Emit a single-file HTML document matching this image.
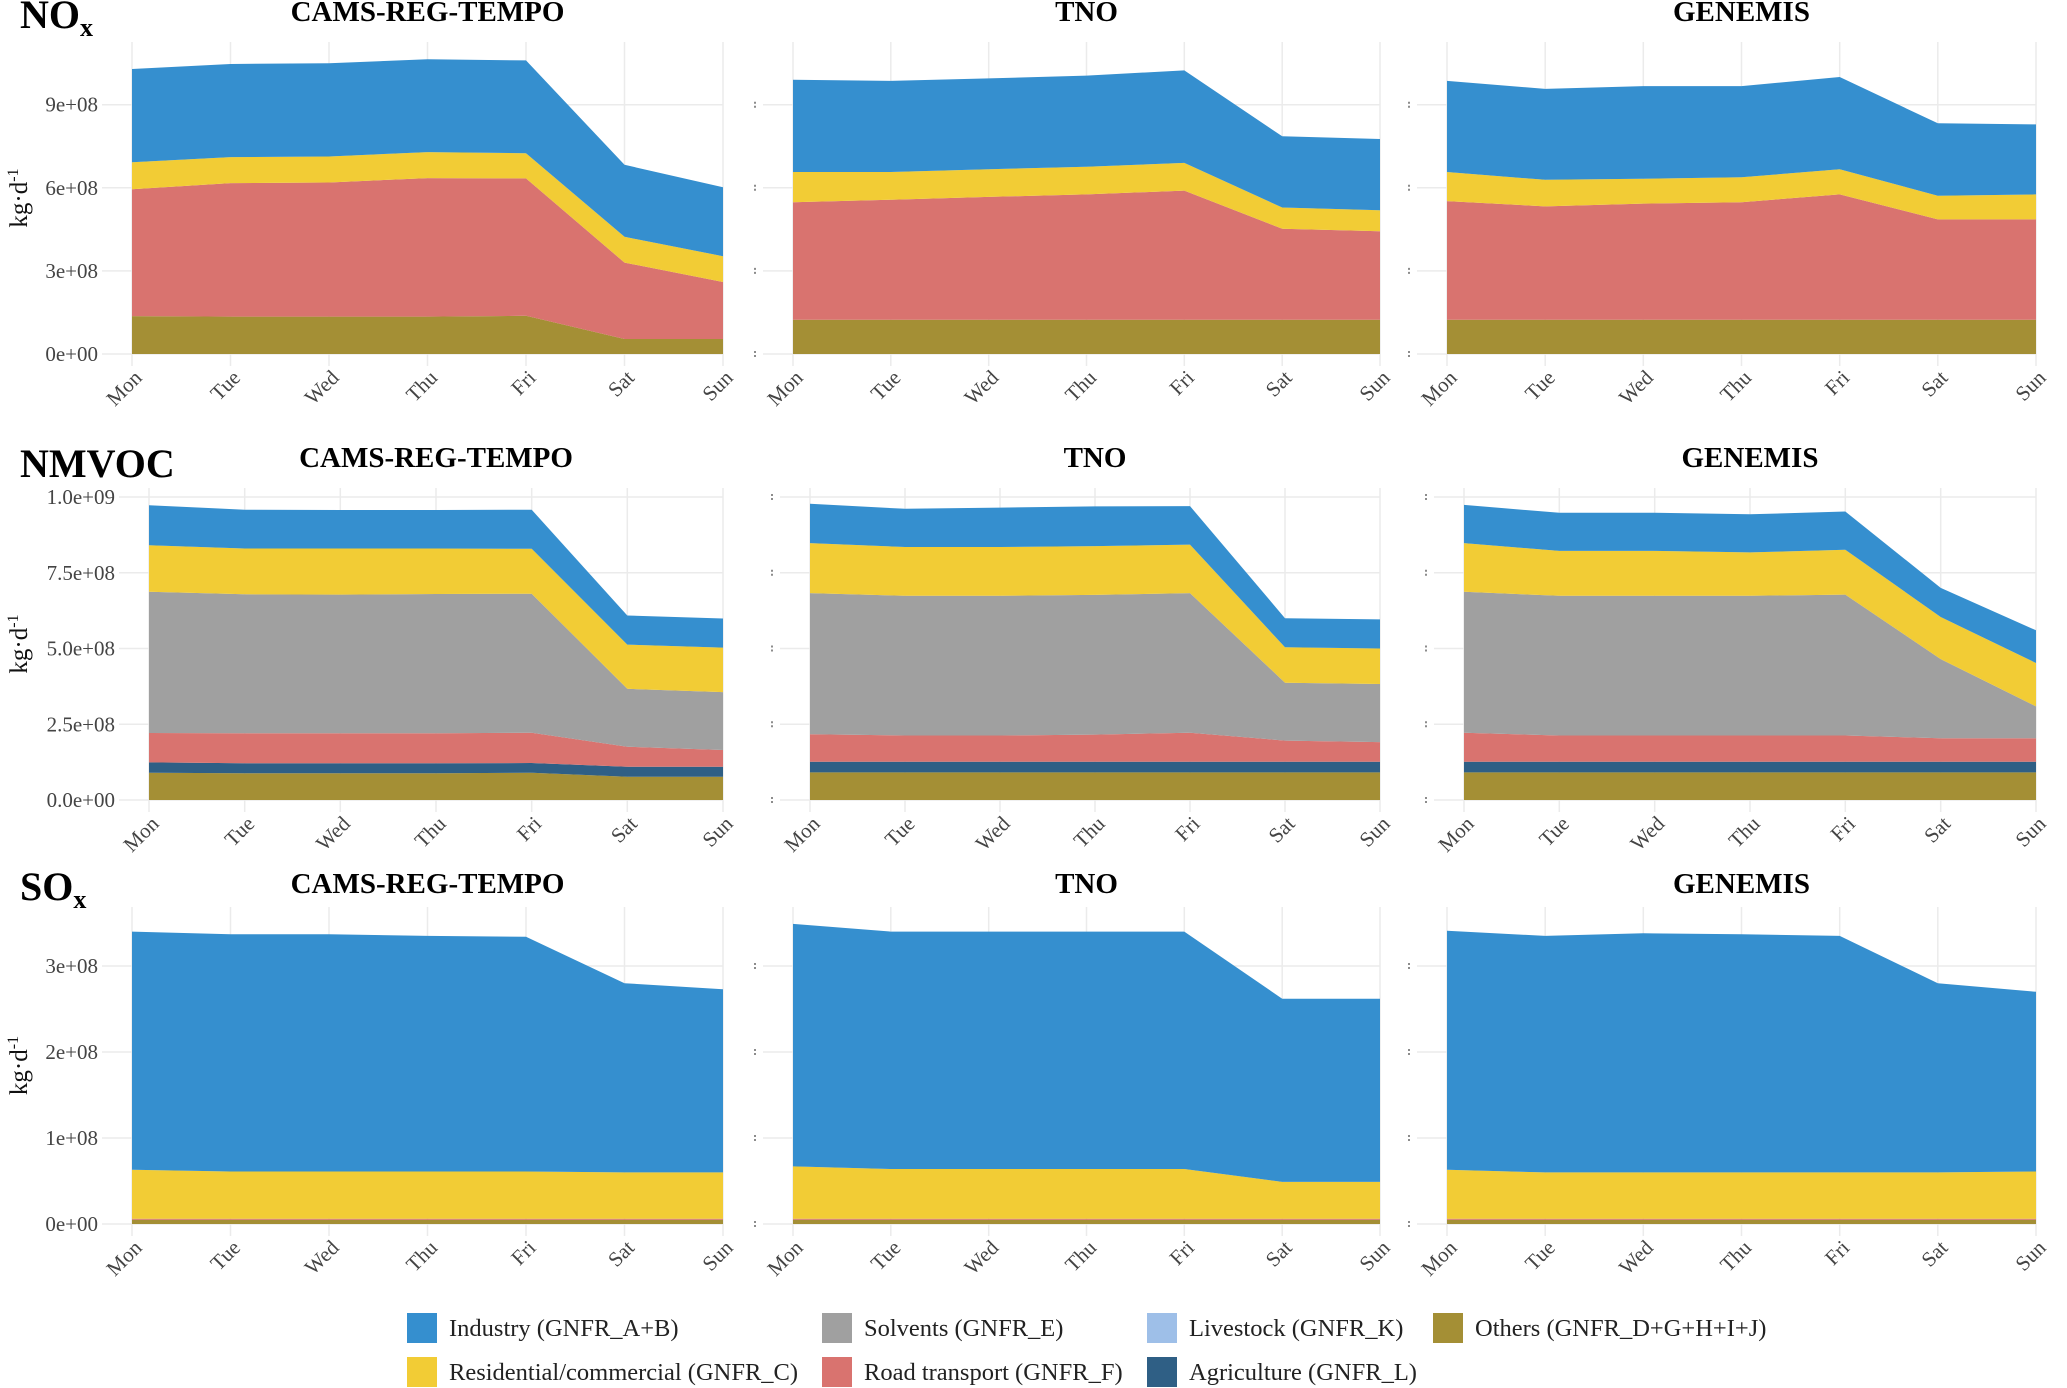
<!DOCTYPE html>
<html><head><meta charset="utf-8"><style>
body{margin:0;background:#fff;}
svg{display:block;font-family:"Liberation Serif",serif;}
</style></head><body>
<svg id="chart" width="2067" height="1388" viewBox="0 0 2067 1388" xmlns="http://www.w3.org/2000/svg"></svg>
<script>
const days = ["Mon","Tue","Wed","Thu","Fri","Sat","Sun"];
const seriesNames = ["Others","Agriculture","Livestock","Road transport","Solvents","Residential/commercial","Industry"];
const seriesColors = ["#a48f35","#2f5f85","#9ebfe8","#d9736f","#a0a0a0","#f2cc35","#358fcf"];
const models = ["CAMS-REG-TEMPO","TNO","GENEMIS"];
const zero7 = [0,0,0,0,0,0,0];
// values in units of 1e8 kg/d, per series (stack bottom->top)
// NOx
const noxCams = [[1.37,1.35,1.35,1.35,1.38,0.54,0.54],zero7,zero7,[4.58,4.82,4.84,5.0,4.96,2.76,2.06],zero7,[0.97,0.94,0.94,0.94,0.91,0.93,0.93],[3.37,3.36,3.37,3.35,3.35,2.6,2.49]];
const noxTno = [[1.24,1.24,1.24,1.24,1.24,1.24,1.24],zero7,zero7,[4.24,4.33,4.43,4.52,4.66,3.28,3.19],zero7,[1.09,1.0,1.0,1.0,1.0,0.77,0.76],[3.33,3.29,3.28,3.29,3.34,2.57,2.57]];
const noxGen = [[1.24,1.24,1.24,1.24,1.24,1.24,1.24],zero7,zero7,[4.28,4.09,4.19,4.24,4.52,3.62,3.62],zero7,[1.05,0.96,0.9,0.9,0.91,0.85,0.9],[3.29,3.28,3.34,3.29,3.33,2.62,2.53]];
// NMVOC
const vocCams = [[0.9,0.88,0.88,0.88,0.9,0.77,0.77],[0.34,0.33,0.33,0.33,0.32,0.33,0.33],zero7,[0.97,0.99,0.99,0.99,1.0,0.66,0.55],[4.66,4.59,4.58,4.6,4.59,1.91,1.91],[1.54,1.51,1.52,1.5,1.48,1.46,1.47],[1.32,1.28,1.27,1.27,1.29,0.96,0.96]];
const vocTno = [[0.91,0.91,0.91,0.91,0.91,0.91,0.91],[0.35,0.35,0.35,0.35,0.35,0.35,0.35],zero7,[0.91,0.87,0.87,0.9,0.96,0.7,0.65],[4.66,4.61,4.61,4.61,4.61,1.91,1.92],[1.65,1.61,1.61,1.61,1.6,1.17,1.17],[1.3,1.26,1.3,1.31,1.27,0.96,0.96]];
const vocGen = [[0.91,0.91,0.91,0.91,0.91,0.91,0.91],[0.35,0.35,0.35,0.35,0.35,0.35,0.35],zero7,[0.96,0.87,0.87,0.87,0.87,0.78,0.78],[4.65,4.61,4.61,4.61,4.65,2.61,1.05],[1.61,1.48,1.48,1.43,1.48,1.39,1.43],[1.26,1.26,1.26,1.26,1.26,0.96,1.08]];
// SOx
const soxCams = [[0.05,0.05,0.05,0.05,0.05,0.05,0.05],zero7,zero7,[0.01,0.01,0.01,0.01,0.01,0.01,0.01],zero7,[0.57,0.55,0.55,0.55,0.55,0.54,0.54],[2.77,2.76,2.76,2.74,2.73,2.2,2.13]];
const soxTno = [[0.05,0.05,0.05,0.05,0.05,0.05,0.05],zero7,zero7,[0.01,0.01,0.01,0.01,0.01,0.01,0.01],zero7,[0.61,0.58,0.58,0.58,0.58,0.43,0.43],[2.82,2.76,2.76,2.76,2.76,2.13,2.13]];
const soxGen = [[0.05,0.05,0.05,0.05,0.05,0.05,0.05],zero7,zero7,[0.01,0.01,0.01,0.01,0.01,0.01,0.01],zero7,[0.57,0.54,0.54,0.54,0.54,0.54,0.55],[2.78,2.75,2.78,2.77,2.75,2.2,2.09]];
const noxTicks = [0,3,6,9];
const noxTickLabels = ["0e+00","3e+08","6e+08","9e+08"];
const vocTicks = [0,2.5,5,7.5,10];
const vocTickLabels = ["0.0e+00","2.5e+08","5.0e+08","7.5e+08","1.0e+09"];
const soxTicks = [0,1,2,3];
const soxTickLabels = ["0e+00","1e+08","2e+08","3e+08"];

const NS="http://www.w3.org/2000/svg";
const svg=document.getElementById('chart');
function mk(tag,attrs,parent){const e=document.createElementNS(NS,tag);for(const k in attrs)e.setAttribute(k,attrs[k]);(parent||svg).appendChild(e);return e;}

const cols=[{x0:132,x1:723},{x0:793,x1:1380},{x0:1447,x1:2036}];
const rows=[
 {name:"nox",label:"NO",sub:"x",data:[noxCams,noxTno,noxGen],ticks:noxTicks,tl:noxTickLabels,y0:354,unit:27.7,top:42,titleY:21,labY:28,shift:0},
 {name:"nmvoc",label:"NMVOC",sub:"",data:[vocCams,vocTno,vocGen],ticks:vocTicks,tl:vocTickLabels,y0:800,unit:30.3,top:488,titleY:467,labY:477,shift:17},
 {name:"sox",label:"SO",sub:"x",data:[soxCams,soxTno,soxGen],ticks:soxTicks,tl:soxTickLabels,y0:1224,unit:86,top:907,titleY:893,labY:900,shift:0}
];

rows.forEach((r,ri)=>{
  const g=mk('g',{});
  
  
  const t=mk('text',{x:20,y:r.labY,'font-size':40,'font-weight':'bold',fill:'#000'},g);
  
  
  t.textContent=r.label;
  if(r.sub){const s=mk('tspan',{'font-size':26,dy:8},t);s.textContent=r.sub;}
  const yMid=(r.top+r.y0)/2;
  const yt=mk('text',{x:0,y:0,'font-size':25,'text-anchor':'middle',fill:'#111',transform:`translate(27,${yMid}) rotate(-90)`},g);
  
  
  yt.textContent='kg·d';
  const sp=mk('tspan',{'font-size':16,dy:-9},yt);sp.textContent='-1';
  cols.forEach((c0,ci)=>{
    const c={x0:c0.x0+r.shift,x1:c0.x1};
    const pg=mk('g',{},g);
    
    
    const xs=i=>c.x0+(c.x1-c.x0)*i/6;
    const ys=v=>r.y0-v*r.unit;
    const gl=c.x0-30;
    days.forEach((d,i)=>{const l=mk('line',{x1:xs(i),x2:xs(i),y1:r.top,y2:r.y0+12,stroke:'#ebebeb','stroke-width':1.5},pg);
      });
    r.ticks.forEach((tv,ti)=>{
      const l=mk('line',{x1:gl,x2:c.x1,y1:ys(tv),y2:ys(tv),stroke:'#ebebeb','stroke-width':1.5},pg);
      
      if(ci===0){
        const tt=mk('text',{x:c.x0-34,y:ys(tv)+7,'font-size':21,'text-anchor':'end',fill:'#444'},pg);
        
        tt.textContent=r.tl[ti];
      } else {
        const tm=mk('line',{x1:gl-8,x2:gl-8,y1:ys(tv)-3,y2:ys(tv)+3,stroke:'#666','stroke-width':1.5,'stroke-dasharray':'2,2'},pg);
        
      }
    });
    const data=r.data[ci];
    let base=[0,0,0,0,0,0,0];
    data.forEach((ser,si)=>{
      const topv=base.map((b,i)=>b+ser[i]);
      if(ser.some(v=>v>0)){
        let d='';
        topv.forEach((v,i)=>{d+=(i?'L':'M')+xs(i).toFixed(1)+','+ys(v).toFixed(1);});
        for(let i=6;i>=0;i--)d+='L'+xs(i).toFixed(1)+','+ys(base[i]).toFixed(1);
        const p=mk('path',{d:d+'Z',fill:seriesColors[si]},pg);
        
        
      }
      base=topv;
    });
    days.forEach((d,i)=>{
      const tx=mk('text',{x:0,y:0,'font-size':21,'text-anchor':'end',fill:'#444',transform:`translate(${xs(i)+11},${r.y0+25}) rotate(-45)`},pg);
      
      tx.textContent=d;
    });
    const ti=mk('text',{x:(c.x0+c.x1)/2,y:r.titleY,'font-size':29,'font-weight':'bold','text-anchor':'middle',fill:'#000'},pg);
    
    ti.textContent=models[ci];
  });
});

const legendItems=[
 {t:"Industry (GNFR_A+B)",c:6,x:407,y:1328},{t:"Solvents (GNFR_E)",c:4,x:822,y:1328},{t:"Livestock (GNFR_K)",c:2,x:1147,y:1328},{t:"Others (GNFR_D+G+H+I+J)",c:0,x:1433,y:1328},
 {t:"Residential/commercial (GNFR_C)",c:5,x:407,y:1372},{t:"Road transport (GNFR_F)",c:3,x:822,y:1372},{t:"Agriculture (GNFR_L)",c:1,x:1147,y:1372}
];
const lg=mk('g',{});


legendItems.forEach(it=>{
  const eg=mk('g',{},lg);
  
  
  mk('rect',{x:it.x,y:it.y-15,width:30,height:30,fill:seriesColors[it.c]},eg);
  const tx=mk('text',{x:it.x+42,y:it.y+8,'font-size':24.5,fill:'#222'},eg);
  tx.textContent=it.t;
});
</script>
</body></html>
